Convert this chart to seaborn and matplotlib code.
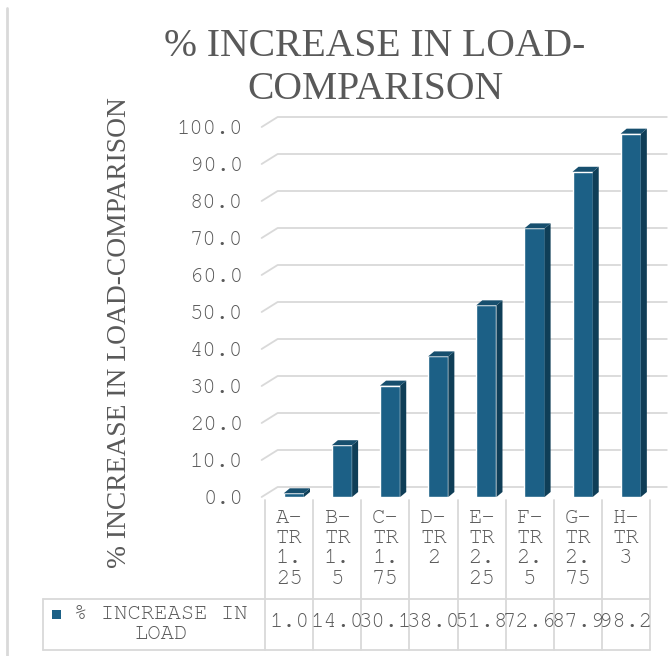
import matplotlib
matplotlib.use("Agg")
import matplotlib.pyplot as plt
import matplotlib.transforms as mtransforms
from matplotlib.patches import Polygon, Rectangle
from matplotlib.lines import Line2D
import seaborn as sns
import pandas as pd

# data
categories = ["A-TR 1.25", "B-TR 1.5", "C-TR 1.75", "D-TR 2",
              "E-TR 2.25", "F-TR 2.5", "G-TR 2.75", "H-TR 3"]
values = [1.0, 14.0, 30.1, 38.0, 51.8, 72.6, 87.9, 98.2]
series_name = "% INCREASE IN LOAD"
y_ticks = [0, 10, 20, 30, 40, 50, 60, 70, 80, 90, 100]

df = pd.DataFrame({"category": categories, "value": values})

FRONT = "#1c6086"
SIDE = "#0f3e57"
TOP = "#174f6e"
TEXT = "#595959"
LINE = "#d9d9d9"
MONO = ["FreeMono", "Liberation Mono", "DejaVu Sans Mono"]
SERIF = ["Liberation Serif", "DejaVu Serif"]

sns.set_style("white")
plt.rcParams["font.family"] = ["Liberation Serif", "DejaVu Serif"]

W, H = 668, 656
fig = plt.figure(figsize=(W / 100, H / 100), dpi=100)
ax = fig.add_axes([265 / W, 1 - 497 / H, 385 / W, 370 / H])


def fx(px):
    return px / W


def fy(py):
    return 1 - py / H


# back-wall gridlines with a short slanted piece on the left (3D look)
ddx_wall, ddy_wall = 16 / 48.1, 10 / 3.7
for v in y_ticks:
    ax.plot([-0.57, -0.57 + ddx_wall, len(categories) - 0.5 + 0.35],
            [v, v + ddy_wall, v + ddy_wall],
            color=LINE, lw=1.3, clip_on=False, zorder=0)

sns.barplot(data=df, x="category", y="value", color=FRONT, width=0.42,
            saturation=1, ax=ax, zorder=3)

# side and top faces of each column; columns sit a little right of the cell centre
ddx, ddy = 6 / 48.1, 5 / 3.7
shift = 0.1
for p in ax.patches:
    p.set_x(p.get_x() + shift)
    x0, w, h = p.get_x(), p.get_width(), p.get_height()
    x1 = x0 + w
    side = Polygon([(x1, 0), (x1 + ddx, ddy), (x1 + ddx, h + ddy), (x1, h)],
                   closed=True, facecolor=SIDE, edgecolor="none",
                   clip_on=False, zorder=3)
    top = Polygon([(x0, h), (x0 + ddx, h + ddy), (x1 + ddx, h + ddy), (x1, h)],
                  closed=True, facecolor=TOP, edgecolor="none",
                  clip_on=False, zorder=3)
    ax.add_patch(side)
    ax.add_patch(top)

ax.set_xlim(-0.5, len(categories) - 0.5)
ax.set_ylim(0, 100)
ax.set_yticks(y_ticks)
ax.set_yticklabels([f"{v:.1f}" for v in y_ticks], family=MONO,
                   fontsize=16, color=TEXT)
ax.tick_params(axis="y", length=0, pad=16)
ax.set_xticks([])
ax.set_xlabel("")
ax.set_ylabel("")
for s in ax.spines.values():
    s.set_visible(False)
ax.patch.set_alpha(0)

# titles
fig.text(fx(375), fy(68), "% INCREASE IN LOAD-\nCOMPARISON", ha="center",
         va="center", fontsize=28.5, color=TEXT, family=SERIF,
         linespacing=1.2)
fig.text(fx(120), fy(333), "% INCREASE IN LOAD-COMPARISON", rotation=90,
         ha="center", va="center", fontsize=19.8, color=TEXT, family=SERIF)

# data table under the plot
tb = mtransforms.blended_transform_factory(ax.transData, fig.transFigure)
n = len(categories)
for i in range(n + 1):
    ax.add_line(Line2D([i - 0.5, i - 0.5], [fy(500), fy(650)], transform=tb,
                       color=LINE, lw=1.3, clip_on=False))
for py in (599, 650):
    fig.add_artist(Line2D([fx(43), fx(650)], [fy(py), fy(py)], color=LINE, lw=1.3))
fig.add_artist(Line2D([fx(43), fx(43)], [fy(599), fy(650)], color=LINE, lw=1.3))


def wrap_label(name):
    parts = name.replace("-", "- ").split()
    lines = []
    for t in parts:
        lines += [t[k:k + 2] for k in range(0, len(t), 2)]
    return "\n".join(lines)


for i, (c, v) in enumerate(zip(categories, values)):
    ax.text(i, fy(509), wrap_label(c), transform=tb, ha="center", va="top",
            family=MONO, fontsize=16, color=TEXT, linespacing=1.16)
    ax.text(i, fy(622), f"{v:.1f}", transform=tb, ha="center", va="center",
            family=MONO, fontsize=16, color=TEXT)

# legend key inside the table
fig.add_artist(Rectangle((fx(52), fy(619)), 9 / W, 9 / H, facecolor=FRONT,
                         edgecolor="none"))
fig.text(fx(161), fy(624), "% INCREASE IN\nLOAD", ha="center", va="center",
         family=MONO, fontsize=16, color=TEXT, linespacing=1.1)

# chart frame edge on the left
fig.add_artist(Line2D([fx(7), fx(7)], [fy(8), fy(656)], color=LINE, lw=2))

fig.savefig("out.png", dpi=100)
